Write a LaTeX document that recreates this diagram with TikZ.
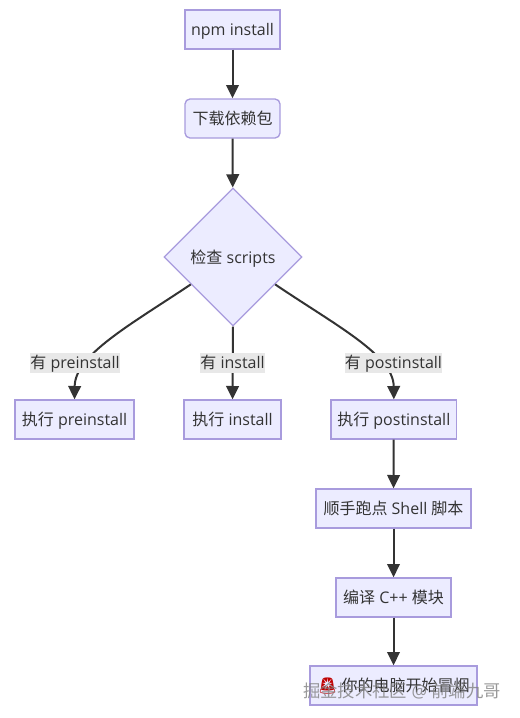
\documentclass[tikz,border=0pt]{standalone}
\usepackage{fontspec}
\setmainfont{Open Sans}
\newfontfamily\cjk{Noto Sans CJK SC}
\newfontfamily\emo{Noto Emoji}
\usetikzlibrary{shapes.geometric,arrows.meta}
\definecolor{nodefill}{HTML}{ECECFF}
\definecolor{nodeline}{HTML}{A89BDD}
\definecolor{ink}{HTML}{333333}
\definecolor{labelbg}{HTML}{E8E8E8}
\tikzset{
  base/.style={draw=nodeline,fill=nodefill,line width=1pt,text=ink,inner sep=0pt,font=\fontsize{12}{14}\selectfont,anchor=center},
  box/.style={base,rectangle,minimum height=29.25pt,text height=10pt,text depth=1pt},
  rbox/.style={box,rounded corners=3.75pt},
  dia/.style={base,diamond,minimum width=103.5pt,minimum height=103.5pt,aspect=1,text height=10pt,text depth=1pt},
  link/.style={draw=ink,line width=1.5pt,-{Triangle[length=10pt,width=9.5pt]}},
  lab/.style={fill=labelbg,text=ink,inner sep=0pt,minimum height=15pt,text height=10pt,text depth=1pt,font=\fontsize{12}{14}\selectfont},
  wmark/.style={text=gray,opacity=.8,font=\fontsize{13}{15}\selectfont,inner sep=0pt}
}
\begin{document}
\begin{tikzpicture}[x=0.75pt,y=-0.75pt]
\useasboundingbox (0,0) rectangle (519,718);
\node[box,minimum width=71.25pt] (a) at (232.5,29.5) {npm install};
\node[rbox,minimum width=71.25pt] (b) at (232.5,118.5) {{\cjk 下载依赖包}};
\node[dia] (c) at (233,257) {{\cjk 检查} scripts};
\node[box,minimum width=89.25pt] (d) at (74.5,419.5) {{\cjk 执行} preinstall};
\node[box,minimum width=72.75pt] (e) at (232.5,419.5) {{\cjk 执行} install};
\node[box,minimum width=94.25pt] (f) at (393.8,419.5) {{\cjk 执行} postinstall};
\node[box,minimum width=116.25pt] (g) at (393.5,508.5) {{\cjk 顺手跑点} Shell {\cjk 脚本}};
\node[box,minimum width=86.25pt] (h) at (393.5,597.5) {{\cjk 编译} C++ {\cjk 模块}};
\node[box,minimum width=125.25pt] (i) at (393.5,685.5) {\textcolor{red!75!black}{\emo 🚨} {\cjk 你的电脑开始冒烟}};
\draw[link] (a) -- (b);
\draw[link] (b) -- (c);
\draw[link] (c.213.7) .. controls (130,325) and (75,355) .. (d.north);
\draw[link] (c.south) -- (e.north);
\draw[link] (c.-33.7) .. controls (335,325) and (393.5,355) .. (f.north);
\draw[link] (f) -- (g);
\draw[link] (g) -- (h);
\draw[link] (h) -- (i);
\node[lab] (l1) at (75,362.5) {{\cjk 有} preinstall};
\node[lab] (l2) at (232.5,362.5) {{\cjk 有} install};
\node[lab] (l3) at (393.5,362.5) {{\cjk 有} postinstall};
\node[wmark] (w) at (402,690.5) {{\cjk 掘金技术社区} @ {\cjk 前端九哥}};
\end{tikzpicture}
\end{document}
